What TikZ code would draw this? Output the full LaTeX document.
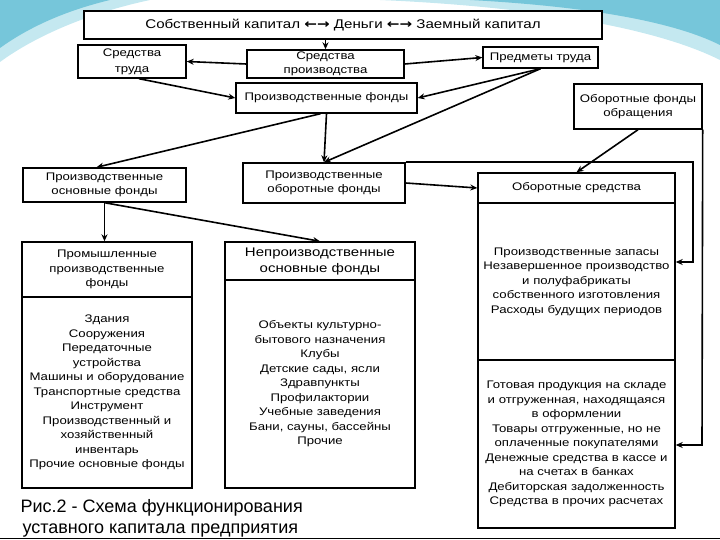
\documentclass[tikz,border=0pt]{standalone}
\usepackage{fontspec}
\setmainfont{Liberation Sans}
\newfontfamily\boxf[FakeStretch=1.2]{Liberation Sans}
\newfontfamily\symf[FakeStretch=1.2]{DejaVu Sans}
\usetikzlibrary{arrows.meta}

\definecolor{swirl}{RGB}{118,198,218}
\definecolor{swirllight}{RGB}{196,232,240}

\tikzset{
  box/.style={draw, line width=1.4pt, fill=white, align=center, inner sep=1pt,
    font=\boxf\fontsize{11}{14.5}\selectfont},
  arr/.style={line width=1.6pt, -{Stealth[length=7pt,width=6pt]}},
}

\begin{document}
\begin{tikzpicture}[x=1pt,y=-1pt]
  \useasboundingbox (0,0) rectangle (720,540);
  % slide background
  \fill[swirllight] (0,0) -- (0,62) .. controls (30,40) and (80,15) .. (150,0) -- cycle;
  \fill[swirl] (0,0) -- (0,48) .. controls (25,30) and (60,12) .. (110,0) -- cycle;
  \fill[swirllight] (380,0) .. controls (520,6) and (650,25) .. (720,60) -- (720,0) -- cycle;
  \fill[swirl] (470,0) .. controls (580,6) and (670,20) .. (720,45) -- (720,0) -- cycle;
  \draw[line width=1.5pt] (0,538.5) -- (720,538.5);

  % top row
  \node[box, minimum width=518pt, minimum height=28pt, font=\boxf\fontsize{12.6}{13}\selectfont]
    (top) at (343,25) {Собственный капитал {\symf\bfseries ←→} Деньги {\symf\bfseries ←→} Заемный капитал};
  \node[box, minimum width=108pt, minimum height=33pt, font=\boxf\fontsize{11}{16}\selectfont] (trud) at (132,61.5) {Средства\\труда};
  \node[box, minimum width=157pt, minimum height=28pt] (sprod) at (325.5,64) {Средства\\производства};
  \node[box, minimum width=115pt, minimum height=21pt] (predm) at (540.5,57.5) {Предметы труда};
  \node[box, minimum width=181pt, minimum height=30pt] (pfond) at (326.5,98) {Производственные фонды};
  \node[box, minimum width=128pt, minimum height=45pt] (obrf) at (638,106.5) {Оборотные фонды\\обращения};

  % middle row
  \node[box, minimum width=163pt, minimum height=34pt] (osn) at (104.5,185) {Производственные\\основные фонды};
  \node[box, minimum width=162pt, minimum height=40pt] (obor) at (324,183) {Производственные\\оборотные фонды};
  \node[box, minimum width=197pt, minimum height=30pt] (ossrh) at (576.5,188) {Оборотные средства};

  % lower columns
  \node[box, minimum width=170pt, minimum height=55pt] (promh) at (107,269.5)
    {Промышленные\\производственные\\фонды};
  \node[box, minimum width=170pt, minimum height=191pt] (promb) at (107,392.5)
    {Здания\\Сооружения\\Передаточные\\устройства\\Машины и оборудование\\Транспортные средства\\Инструмент\\Производственный и\\хозяйственный\\инвентарь\\Прочие основные фонды};
  \node[box, minimum width=190pt, minimum height=38pt, font=\boxf\fontsize{12.5}{16}\selectfont] (neprh) at (320,261)
    {Непроизводственные\\основные фонды};
  \node[box, minimum width=190pt, minimum height=208pt] (neprb) at (320,384)
    {Объекты культурно-\\бытового назначения\\Клубы\\Детские сады, ясли\\Здравпункты\\Профилактории\\Учебные заведения\\Бани, сауны, бассейны\\Прочие};
  \node[box, minimum width=197pt, minimum height=157pt] (ossrm) at (576.5,281.5)
    {Производственные запасы\\Незавершенное производство\\и полуфабрикаты\\собственного изготовления\\Расходы будущих периодов};
  \node[box, minimum width=197pt, minimum height=168pt] (ossrl) at (576.5,444)
    {Готовая продукция на складе\\и отгруженная, находящаяся\\в оформлении\\Товары отгруженные, но не\\оплаченные покупателями\\Денежные средства в кассе и\\на счетах в банках\\Дебиторская задолженность\\Средства в прочих расчетах};

  \node[anchor=north west, align=left, font=\fontsize{18}{21}\selectfont] (cap) at (17,496)
    {Рис.2 - Схема функционирования\\\hspace{2pt}уставного капитала предприятия};

  \coordinate (ra) at (693,262);
  \coordinate (rb) at (702,445);

  % connectors
  \draw[arr] (top.south -| sprod.north) -- (sprod.north);
  \draw[arr] (sprod.west) -- (trud.east);
  \draw[arr] (sprod.east) -- (predm.west);
  \draw[arr] ([xshift=7pt]trud.south) -- (pfond.west);
  \draw[arr] (predm.south) -- (pfond.east);
  \draw[arr] (predm.south) -- (obor.north);
  \draw[arr] (pfond.south) -- (obor.north);
  \draw[arr] ([xshift=-6pt]pfond.south) -- ([xshift=-8pt]osn.north);
  \draw[arr] (osn.south) -- (osn.south |- promh.north);
  \draw[arr] (osn.south) -- (neprh.north);
  \draw[arr] (obor.east) -- (ossrh.west);
  \draw[arr] (obrf.south) -- (ossrh.north);
  \draw[arr] (obor.north east) -| (ra) -- (ra -| ossrm.east);
  \draw[arr] (obrf.south east) -- (rb) -- (rb -| ossrl.east);
\end{tikzpicture}
\end{document}
